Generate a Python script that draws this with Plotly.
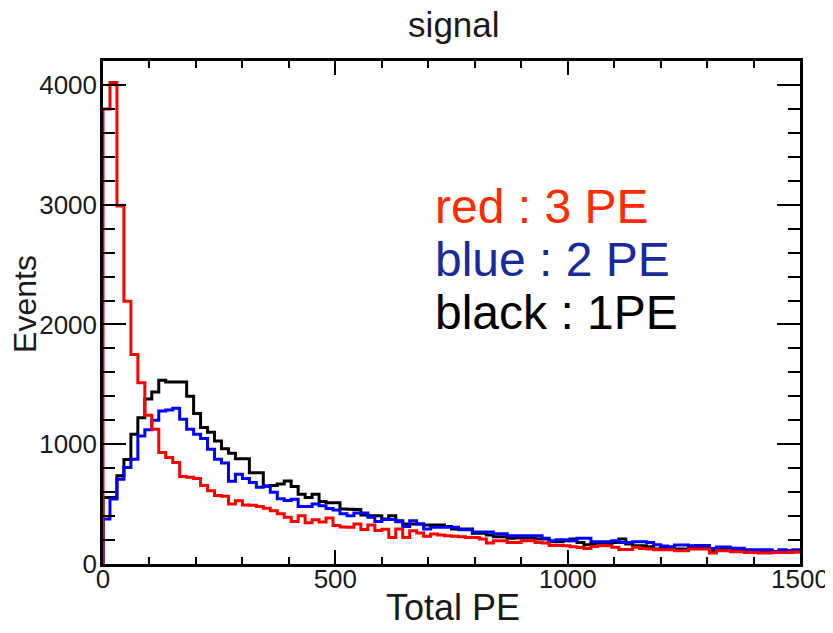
import plotly.graph_objects as go

# ---- data ----
BIN_WIDTH = 15
X_MIN = 0
N_BINS = 100

red_3pe = [3800, 4020, 2990, 2194, 1750, 1514, 1242, 1125, 930, 889,
           847, 730, 725, 714, 655, 611, 572, 565, 500, 528,
           492, 490, 480, 465, 444, 420, 390, 355, 403, 345,
           370, 350, 385, 322, 308, 306, 333, 288, 325, 280,
           290, 222, 292, 222, 278, 258, 231, 250, 242, 236,
           231, 228, 222, 222, 208, 175, 194, 194, 180, 180,
           194, 194, 180, 176, 155, 155, 153, 145, 138, 130,
           147, 155, 152, 139, 122, 122, 139, 130, 126, 119,
           119, 119, 111, 111, 125, 125, 125, 92, 111, 111,
           103, 103, 97, 97, 92, 92, 97, 97, 97, 100]

blue_2pe = [375, 542, 708, 806, 875, 1069, 1120, 1200, 1278, 1285,
            1300, 1208, 1125, 1083, 1047, 958, 875, 843, 690, 750,
            714, 680, 640, 650, 600, 545, 530, 540, 480, 480,
            500, 486, 464, 450, 420, 403, 425, 425, 390, 355,
            372, 372, 353, 314, 361, 333, 292, 306, 306, 306,
            306, 286, 286, 267, 267, 267, 253, 253, 236, 236,
            236, 236, 236, 214, 194, 203, 203, 194, 214, 214,
            186, 186, 186, 194, 180, 180, 186, 186, 180, 161,
            150, 144, 158, 158, 153, 155, 155, 130, 142, 142,
            131, 131, 119, 119, 119, 119, 105, 119, 108, 119]

black_1pe = [556, 556, 736, 872, 1083, 1222, 1378, 1436, 1535, 1520,
             1519, 1519, 1400, 1257, 1139, 1100, 1028, 962, 924, 878,
             878, 761, 762, 652, 655, 667, 694, 647, 583, 556,
             583, 522, 512, 512, 460, 458, 456, 410, 403, 403,
             375, 403, 361, 333, 333, 333, 325, 325, 325, 314,
             292, 292, 292, 256, 256, 242, 228, 228, 214, 217,
             217, 217, 208, 208, 186, 186, 194, 208, 180, 161,
             167, 167, 167, 180, 208, 167, 153, 153, 144, 125,
             131, 131, 125, 125, 133, 133, 133, 111, 125, 125,
             119, 119, 111, 111, 111, 111, 105, 111, 111, 103]

x_ticks = [0, 500, 1000, 1500]
y_ticks = [0, 1000, 2000, 3000, 4000]

edges = [X_MIN + i * BIN_WIDTH for i in range(N_BINS + 1)]


def outline(values):
    # step outline: start at (x0, 0), then each bin's level, ending at last edge
    xs = [edges[0]] + edges[:-1] + [edges[-1]]
    ys = [0] + list(values) + [values[-1]]
    return xs, ys


fig = go.Figure()
for vals, col in [(black_1pe, "#000000"), (blue_2pe, "#0000ff"), (red_3pe, "#ff0000")]:
    xs, ys = outline(vals)
    fig.add_trace(go.Scatter(x=xs, y=ys, mode="lines",
                             line=dict(color=col, width=3, shape="hv"),
                             showlegend=False, hoverinfo="skip"))

FONT = "Liberation Sans, Arial, Helvetica, sans-serif"
TXT = "#1a1a1a"

# page has an 8px body margin, so the figure is sized/positioned to compensate
W, H = 825, 617
PL, PR, PT, PB = 95.3, 792.0, 53.0, 556.5   # plot area in figure pixels


def px(xf):  # reference x pixel -> paper
    return (xf - 8 - PL) / (PR - PL)


def py(yf):  # reference y pixel -> paper
    return (PB - (yf - 8)) / (PB - PT)


fig.update_layout(
    width=W, height=H,
    margin=dict(l=PL, r=W - PR, t=PT, b=H - PB),
    paper_bgcolor="white", plot_bgcolor="white",
    font=dict(family=FONT, color=TXT),
    title=dict(text="signal", x=px(454), xref="paper", y=1 - 17 / H, yref="container",
               xanchor="center", yanchor="middle",
               font=dict(size=35, family=FONT, color=TXT)),
    xaxis=dict(range=[0, 1500], tickvals=x_ticks, ticks="inside", ticklen=14,
               tickwidth=1.5, tickcolor="black", automargin=False,
               showline=True, linecolor="black", linewidth=2.5, mirror="ticks",
               showgrid=False, zeroline=False, ticklabelstandoff=-10,
               ticklabeloverflow="allow",
               minor=dict(dtick=100, ticks="inside", ticklen=7, tickwidth=1.5, tickcolor="black", showgrid=False),
               tickfont=dict(size=26, family=FONT, color=TXT)),
    yaxis=dict(range=[0, 4200], tickvals=y_ticks, ticks="inside", ticklen=23,
               tickwidth=1.5, tickcolor="black", automargin=False,
               showline=True, linecolor="black", linewidth=2.5, mirror="ticks",
               showgrid=False, zeroline=False, ticklabelstandoff=-2,
               ticklabeloverflow="allow",
               minor=dict(dtick=200, ticks="inside", ticklen=12, tickwidth=1.5, tickcolor="black", showgrid=False),
               tickfont=dict(size=26, family=FONT, color=TXT)),
)

# axis titles
fig.add_annotation(text="Total PE", xref="paper", yref="paper", x=px(453), y=py(608),
                   xanchor="center", yanchor="middle", showarrow=False,
                   font=dict(size=36, family=FONT, color=TXT))
fig.add_annotation(text="Events", xref="paper", yref="paper", x=px(25.5), y=py(304),
                   xanchor="center", yanchor="middle", showarrow=False, textangle=-90,
                   font=dict(size=32, family=FONT, color=TXT))

legend_items = [("red : 3 PE", "#ff2a00", 207), ("blue : 2 PE", "#1a2a9c", 260), ("black : 1PE", "#000000", 313)]
for txt, col, ypx in legend_items:
    fig.add_annotation(text=txt, xref="paper", yref="paper",
                       x=px(433), y=py(ypx),
                       xanchor="left", yanchor="middle", showarrow=False,
                       font=dict(size=48, family=FONT, color=col))

fig.write_html("out.html")
